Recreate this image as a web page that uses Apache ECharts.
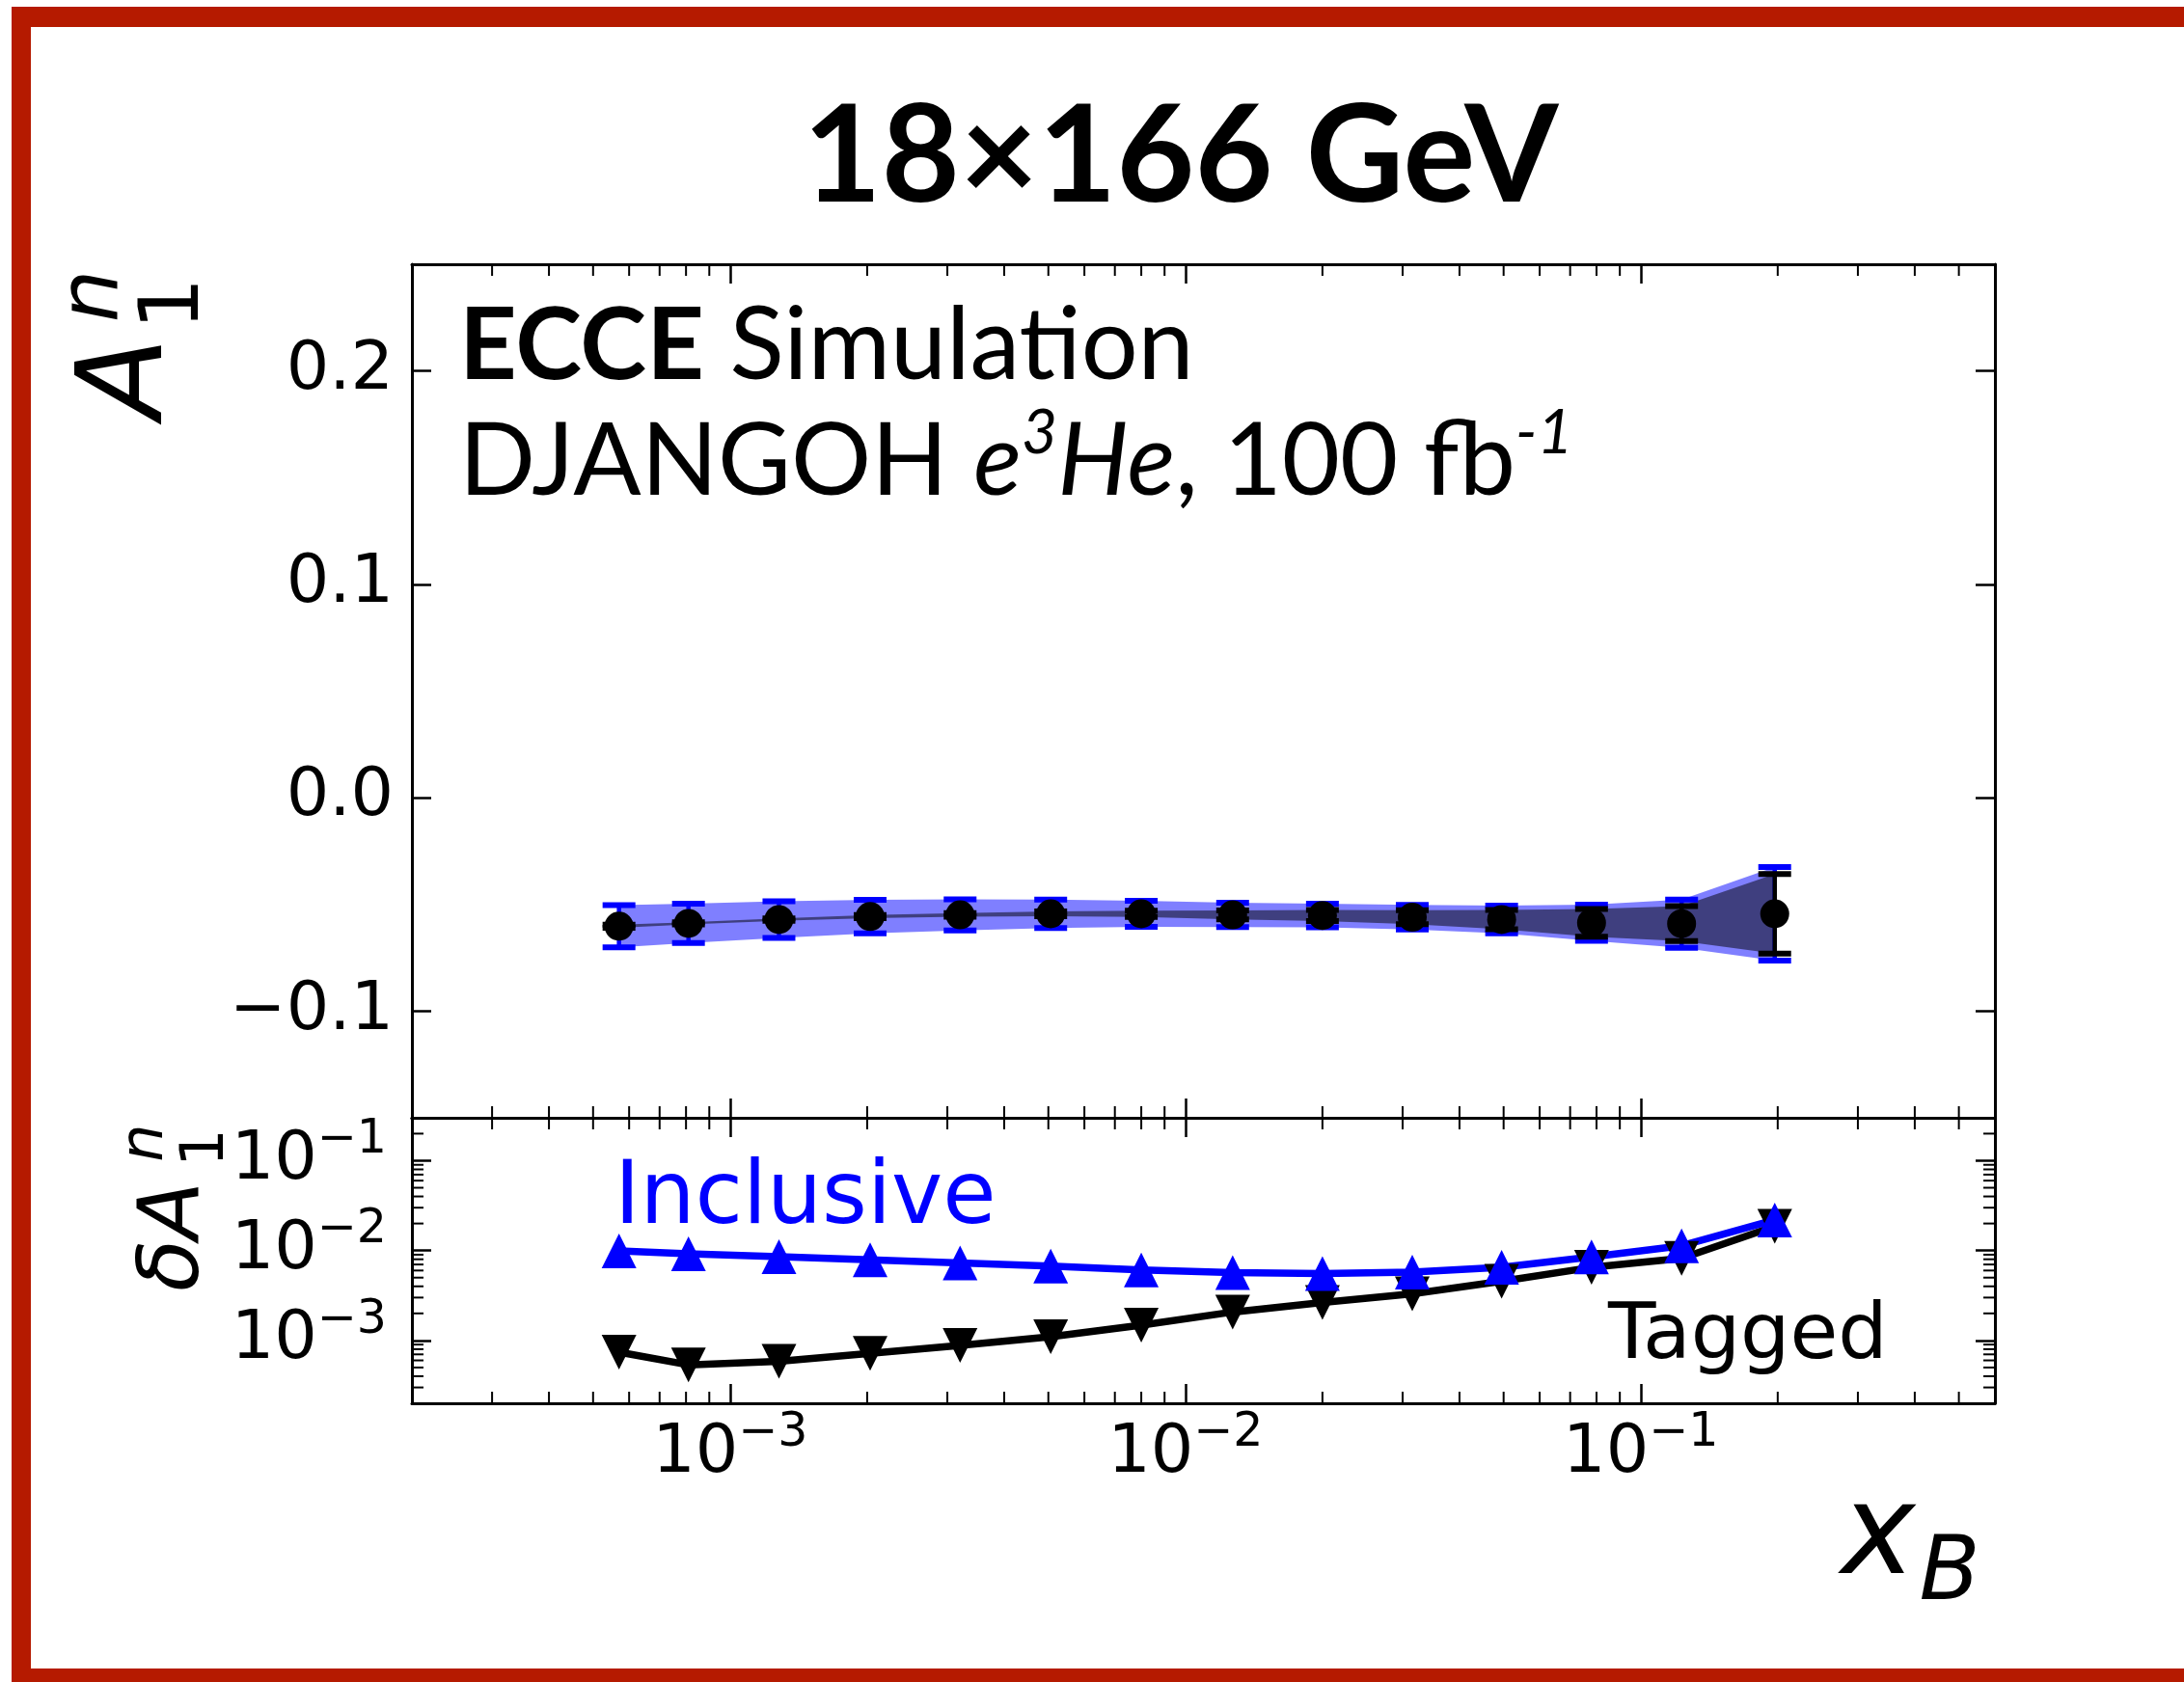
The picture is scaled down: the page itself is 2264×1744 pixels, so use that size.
<!DOCTYPE html>
<html><head><meta charset="utf-8">
<script src="https://cdn.jsdelivr.net/npm/echarts@6/dist/echarts.min.js"></script>
<style>html,body{margin:0;padding:0;background:#fff}#c{width:2264px;height:1744px}</style>
</head><body><div id="c"></div>
<script>
// ---- data ----
const xB = [5.7e-4, 8.1e-4, 1.28e-3, 2.03e-3, 3.2e-3, 5.06e-3, 8.0e-3, 1.27e-2, 2.0e-2, 3.15e-2, 4.95e-2, 7.8e-2, 0.123, 0.197];
const A1n = [-0.0602, -0.0589, -0.0571, -0.0557, -0.0549, -0.0544, -0.0544, -0.0549, -0.0552, -0.0560, -0.0571, -0.0586, -0.0590, -0.0544];
const errInclusive = [9.9e-3, 9.2e-3, 8.55e-3, 7.9e-3, 7.3e-3, 6.7e-3, 6.1e-3, 5.7e-3, 5.55e-3, 5.75e-3, 6.5e-3, 8.5e-3, 1.13e-2, 2.19e-2];
const errTagged = [7.4e-4, 5.35e-4, 5.85e-4, 7.2e-4, 8.8e-4, 1.1e-3, 1.48e-3, 2.07e-3, 2.65e-3, 3.3e-3, 4.55e-3, 6.5e-3, 8.2e-3, 1.86e-2];
const mainYTicks = [-0.1, 0.0, 0.1, 0.2];
const xMinorTicks = [3e-4,4e-4,5e-4,6e-4,7e-4,8e-4,9e-4, 2e-3,3e-3,4e-3,5e-3,6e-3,7e-3,8e-3,9e-3, 2e-2,3e-2,4e-2,5e-2,6e-2,7e-2,8e-2,9e-2, 0.2,0.3,0.4,0.5];
const yMinorTicksLower = [3e-4,4e-4,5e-4,6e-4,7e-4,8e-4,9e-4, 2e-3,3e-3,4e-3,5e-3,6e-3,7e-3,8e-3,9e-3, 2e-2,3e-2,4e-2,5e-2,6e-2,7e-2,8e-2,9e-2, 0.2];
const titleText = '18×166 GeV';

const RED = '#b51a00';
const BLUE = '#0000ff';
const FONT = 'DejaVu Sans';

const chart = echarts.init(document.getElementById('c'), null, {renderer:'canvas', width:2264, height:1744});

const supRich = {
  b: {fontFamily: FONT, fontSize: 70, color: '#000'},
  s: {fontFamily: FONT, fontSize: 49, color: '#000', padding: [0, 0, 42, 0]}
};
function logLabel(v) {
  const e = Math.round(Math.log10(v));
  return '{b|10}{s|' + (e < 0 ? '\u2212' : '') + Math.abs(e) + '}';
}

function frameAxis(extra) {
  return Object.assign({
    axisLine: {show: true, onZero: false, lineStyle: {color: '#000', width: 3}},
    axisTick: {show: true, inside: true, length: 20, lineStyle: {color: '#000', width: 2.5}},
    axisLabel: {show: false},
    splitLine: {show: false},
    minorTick: {show: false}
  }, extra);
}

const xCommon = {type: 'log', logBase: 10, min: 2e-4, max: 0.6};
const xAxis = [
  frameAxis(Object.assign({gridIndex: 0, position: 'bottom'}, xCommon)),
  frameAxis(Object.assign({gridIndex: 0, position: 'top'}, xCommon)),
  frameAxis(Object.assign({gridIndex: 1, position: 'bottom'}, xCommon, {
    axisLabel: {show: true, interval: 0, margin: 7, showMinLabel: false, showMaxLabel: false,
      formatter: logLabel, rich: supRich}
  })),
  frameAxis(Object.assign({gridIndex: 1, position: 'top'}, xCommon))
];

function mainYFmt(v) {
  return (v < 0 ? '\u2212' : '') + Math.abs(v).toFixed(1);
}
const yMainCommon = {type: 'value', min: -0.15, max: 0.25};
const yLowCommon = {type: 'log', logBase: 10, min: 2e-4, max: 0.3};
const yAxis = [
  frameAxis(Object.assign({gridIndex: 0, position: 'left'}, yMainCommon, {
    axisTick: {show: true, inside: true, length: 20, customValues: mainYTicks, lineStyle: {color: '#000', width: 2.5}},
    axisLabel: {show: true, customValues: mainYTicks, margin: 19, formatter: mainYFmt,
      fontFamily: FONT, fontSize: 70, color: '#000'}
  })),
  frameAxis(Object.assign({gridIndex: 0, position: 'right'}, yMainCommon, {
    axisTick: {show: true, inside: true, length: 20, customValues: mainYTicks, lineStyle: {color: '#000', width: 2.5}}
  })),
  frameAxis(Object.assign({gridIndex: 1, position: 'left'}, yLowCommon, {
    axisLabel: {show: true, interval: 0, margin: 26, showMinLabel: false, showMaxLabel: false,
      formatter: logLabel, rich: supRich}
  })),
  frameAxis(Object.assign({gridIndex: 1, position: 'right'}, yLowCommon))
];

function bandSeries(errs, fill) {
  return {
    type: 'custom', xAxisIndex: 0, yAxisIndex: 0, silent: true, clip: false,
    data: xB.map((x, i) => [x, A1n[i], errs[i]]),
    renderItem(params, api) {
      if (params.dataIndex !== 0) return null;
      const up = xB.map((x, i) => api.coord([x, A1n[i] + errs[i]]));
      const lo = xB.map((x, i) => api.coord([x, A1n[i] - errs[i]])).reverse();
      return {type: 'polygon', shape: {points: up.concat(lo)}, style: {fill: fill}};
    }
  };
}
function errBarSeries(errs, color) {
  return {
    type: 'custom', xAxisIndex: 0, yAxisIndex: 0, silent: true, clip: false,
    data: xB.map((x, i) => [x, A1n[i], errs[i]]),
    renderItem(params, api) {
      const x = api.value(0), c = api.value(1), e = api.value(2);
      const t = api.coord([x, c + e]), b = api.coord([x, c - e]);
      const hw = 17;
      return {type: 'group', children: [
        {type: 'line', shape: {x1: t[0], y1: t[1], x2: b[0], y2: b[1]}, style: {stroke: color, lineWidth: 4.5}},
        {type: 'line', shape: {x1: t[0] - hw, y1: t[1], x2: t[0] + hw, y2: t[1]}, style: {stroke: color, lineWidth: 6}},
        {type: 'line', shape: {x1: b[0] - hw, y1: b[1], x2: b[0] + hw, y2: b[1]}, style: {stroke: color, lineWidth: 6}}
      ]};
    }
  };
}
function xMinorSeries(xi, yi, yPlace) {
  return {
    type: 'custom', xAxisIndex: xi, yAxisIndex: yi, silent: true, clip: false,
    data: xMinorTicks.map(v => [v, yPlace]),
    renderItem(params, api) {
      const cs = params.coordSys;
      const px = api.coord([api.value(0), api.value(1)])[0];
      const st = {stroke: '#000', lineWidth: 2};
      return {type: 'group', children: [
        {type: 'line', shape: {x1: px, y1: cs.y, x2: px, y2: cs.y + 12}, style: st},
        {type: 'line', shape: {x1: px, y1: cs.y + cs.height, x2: px, y2: cs.y + cs.height - 12}, style: st}
      ]};
    }
  };
}
function yMinorSeries() {
  return {
    type: 'custom', xAxisIndex: 2, yAxisIndex: 2, silent: true, clip: false,
    data: yMinorTicksLower.map(v => [0.01, v]),
    renderItem(params, api) {
      const cs = params.coordSys;
      const py = api.coord([api.value(0), api.value(1)])[1];
      const st = {stroke: '#000', lineWidth: 2};
      return {type: 'group', children: [
        {type: 'line', shape: {x1: cs.x, y1: py, x2: cs.x + 12, y2: py}, style: st},
        {type: 'line', shape: {x1: cs.x + cs.width, y1: py, x2: cs.x + cs.width - 12, y2: py}, style: st}
      ]};
    }
  };
}

const series = [
  bandSeries(errInclusive, 'rgba(0,0,255,0.5)'),
  bandSeries(errTagged, 'rgba(0,0,0,0.5)'),
  errBarSeries(errInclusive, BLUE),
  errBarSeries(errTagged, '#000'),
  {type: 'scatter', xAxisIndex: 0, yAxisIndex: 0, silent: true,
   data: xB.map((x, i) => [x, A1n[i]]), symbol: 'circle', symbolSize: 30,
   itemStyle: {color: '#000', opacity: 1}},
  xMinorSeries(0, 0, 0),
  xMinorSeries(2, 2, 0.01),
  yMinorSeries(),
  {type: 'line', xAxisIndex: 2, yAxisIndex: 2, silent: true,
   data: xB.map((x, i) => [x, errTagged[i]]), symbol: 'triangle', symbolRotate: 180, symbolSize: 36,
   showAllSymbol: true, lineStyle: {color: '#000', width: 7.5}, itemStyle: {color: '#000', opacity: 1}},
  {type: 'line', xAxisIndex: 2, yAxisIndex: 2, silent: true,
   data: xB.map((x, i) => [x, errInclusive[i]]), symbol: 'triangle', symbolSize: 36,
   showAllSymbol: true, lineStyle: {color: BLUE, width: 7.5}, itemStyle: {color: BLUE, opacity: 1}}
];

const graphic = [
  {type: 'rect', shape: {x: 12, y: 7, width: 2252, height: 21}, style: {fill: RED}, silent: true},
  {type: 'rect', shape: {x: 12, y: 7, width: 20, height: 1737}, style: {fill: RED}, silent: true},
  {type: 'rect', shape: {x: 12, y: 1730, width: 2252, height: 14}, style: {fill: RED}, silent: true},
  {type: 'text', x: 1224, y: 164, silent: true,
   style: {text: titleText, fontFamily: 'Lato', fontWeight: 'bold', fontSize: 140, fill: '#000', align: 'center', verticalAlign: 'middle'}},
  {type: 'text', x: 476, y: 359, silent: true,
   style: {text: '{e|ECCE}{r| Simulation}', align: 'left', verticalAlign: 'middle',
     rich: {e: {fontFamily: 'Lato', fontWeight: 'bold', fontSize: 104, color: '#000'},
            r: {fontFamily: 'Lato', fontSize: 104, color: '#000', letterSpacing: 2}}}},
  {type: 'text', x: 476, y: 479, silent: true,
   style: {text: '{r|DJANGOH }{i|e}{s|3}{i|He}{r|, 100 fb}{s|-1}', align: 'left', verticalAlign: 'middle',
     rich: {r: {fontFamily: 'Lato', fontSize: 104, color: '#000'},
            i: {fontFamily: 'Lato', fontStyle: 'italic', fontSize: 104, color: '#000'},
            s: {fontFamily: 'Lato', fontStyle: 'italic', fontSize: 64, color: '#000', padding: [0, 0, 60, 0]}}}},
  // y label main: A_1^n
  {type: 'text', x: 135, y: 392, rotation: Math.PI / 2, silent: true,
   style: {text: 'A', fontFamily: FONT, fontStyle: 'italic', fontSize: 123, fill: '#000', align: 'center', verticalAlign: 'middle'}},
  {type: 'text', x: 183, y: 315, rotation: Math.PI / 2, silent: true,
   style: {text: '1', fontFamily: FONT, fontSize: 86, fill: '#000', align: 'center', verticalAlign: 'middle'}},
  {type: 'text', x: 99, y: 307, rotation: Math.PI / 2, silent: true,
   style: {text: 'n', fontFamily: FONT, fontStyle: 'italic', fontSize: 86, fill: '#000', align: 'center', verticalAlign: 'middle'}},
  // y label lower: deltaA_1^n
  {type: 'text', x: 182, y: 1282, rotation: Math.PI / 2, silent: true,
   style: {text: 'δA', fontFamily: FONT, fontStyle: 'italic', fontSize: 88, fill: '#000', align: 'center', verticalAlign: 'middle'}},
  {type: 'text', x: 215, y: 1190, rotation: Math.PI / 2, silent: true,
   style: {text: '1', fontFamily: FONT, fontSize: 62, fill: '#000', align: 'center', verticalAlign: 'middle'}},
  {type: 'text', x: 152, y: 1185, rotation: Math.PI / 2, silent: true,
   style: {text: 'n', fontFamily: FONT, fontStyle: 'italic', fontSize: 62, fill: '#000', align: 'center', verticalAlign: 'middle'}},
  // x label
  {type: 'text', x: 1947, y: 1597, silent: true,
   style: {text: 'x', fontFamily: FONT, fontStyle: 'italic', fontSize: 130, fill: '#000', align: 'center', verticalAlign: 'middle'}},
  {type: 'text', x: 2021, y: 1634, silent: true,
   style: {text: 'B', fontFamily: FONT, fontStyle: 'italic', fontSize: 92, fill: '#000', align: 'center', verticalAlign: 'middle'}},
  // series annotations
  {type: 'text', x: 637, y: 1245, silent: true,
   style: {text: 'Inclusive', fontFamily: FONT, fontSize: 90, fill: BLUE, align: 'left', verticalAlign: 'middle'}},
  {type: 'text', x: 1667, y: 1387, silent: true,
   style: {text: 'Tagged', fontFamily: FONT, fontSize: 81, fill: '#000', align: 'left', verticalAlign: 'middle'}}
];

chart.setOption({
  animation: false,
  backgroundColor: '#fff',
  grid: [
    {left: 427, top: 274, width: 1641, height: 885},
    {left: 427, top: 1159, width: 1641, height: 296}
  ],
  xAxis: xAxis,
  yAxis: yAxis,
  series: series,
  graphic: graphic
});
</script>
</body></html>
